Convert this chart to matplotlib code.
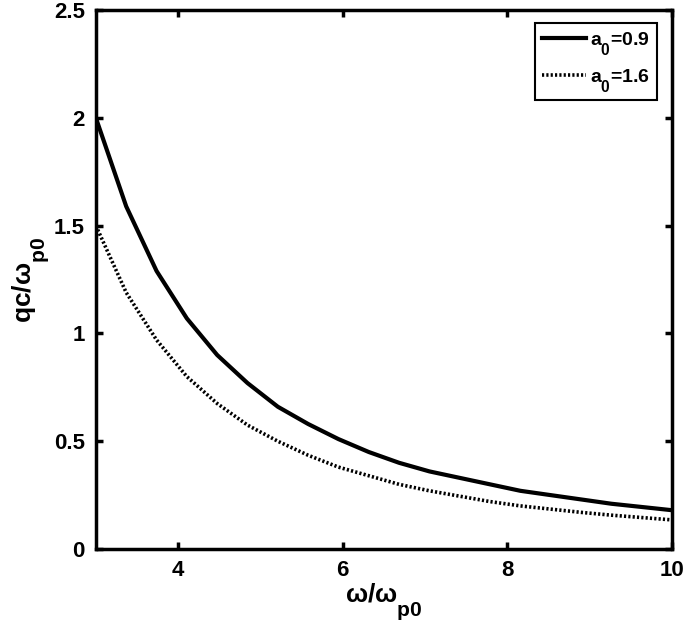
import numpy as np
import matplotlib
matplotlib.use("Agg")
import matplotlib.pyplot as plt
import matplotlib._mathtext as _mt

plt.rcParams['font.family'] = ['Liberation Sans', 'DejaVu Sans']
plt.rcParams['font.weight'] = 'bold'
plt.rcParams['mathtext.fontset'] = 'custom'
plt.rcParams['mathtext.rm'] = 'Liberation Sans:bold'
plt.rcParams['mathtext.it'] = 'Liberation Sans:bold'
plt.rcParams['mathtext.bf'] = 'Liberation Sans:bold'
plt.rcParams['mathtext.sf'] = 'Liberation Sans:bold'
# MATLAB-like deeper, larger subscripts
try:
    _mt.FontConstantsBase.sub1 = 1.0
    _mt.FontConstantsBase.script_space = 0.06
    _mt.SHRINK_FACTOR = 0.8
except Exception:
    pass

# Data
omega = [3.000, 3.368, 3.737, 4.105, 4.474, 4.842, 5.211, 5.579, 5.947, 6.316,
         6.684, 7.053, 7.421, 7.789, 8.158, 8.526, 8.895, 9.263, 9.632, 10.000]
qc_a09 = [2.00, 1.59, 1.29, 1.07, 0.90, 0.77, 0.66, 0.58, 0.51, 0.45,
          0.40, 0.36, 0.33, 0.30, 0.27, 0.25, 0.23, 0.21, 0.195, 0.18]
qc_a16 = [1.50, 1.19, 0.97, 0.80, 0.675, 0.575, 0.50, 0.435, 0.38, 0.34,
          0.30, 0.27, 0.245, 0.22, 0.20, 0.185, 0.17, 0.157, 0.146, 0.135]
labels = [r'$a_0$=0.9', r'$a_0$=1.6']
xticks = [4, 6, 8, 10]
yticks = [0, 0.5, 1, 1.5, 2, 2.5]
yticklabels = ['0', '0.5', '1', '1.5', '2', '2.5']

fig = plt.figure(figsize=(6.85, 6.38), dpi=100)
ax = fig.add_axes([0.140, 0.1395, 0.841, 0.8445])

ax.plot(omega, qc_a09, color='black', linewidth=3.0, linestyle='-', label=labels[0])
ax.plot(omega, qc_a16, color='black', linewidth=2.6, linestyle=(0, (0.6, 0.6)), label=labels[1])

ax.set_xlim(3, 10)
ax.set_ylim(0, 2.5)
ax.set_xticks(xticks)
ax.set_yticks(yticks)
ax.set_yticklabels(yticklabels)
ax.tick_params(direction='in', top=True, right=True, length=5, width=2.5,
               labelsize=16, pad=8)
for lab in ax.get_xticklabels() + ax.get_yticklabels():
    lab.set_fontweight('bold')
for s in ax.spines.values():
    s.set_linewidth(2.5)

ax.set_xlabel(r'$\omega/\omega_{p0}$', fontsize=19, labelpad=0)
ax.set_ylabel(r'$qc/\omega_{p0}$', fontsize=19, labelpad=2)

leg = ax.legend(loc='upper right', fontsize=14, handlelength=2.3, handletextpad=0.2,
                borderpad=0.35, labelspacing=0.5, fancybox=False, framealpha=1,
                edgecolor='black', borderaxespad=0, bbox_to_anchor=(0.974, 0.976))
leg.get_frame().set_linewidth(1.5)

fig.savefig('out.png', dpi=100)
